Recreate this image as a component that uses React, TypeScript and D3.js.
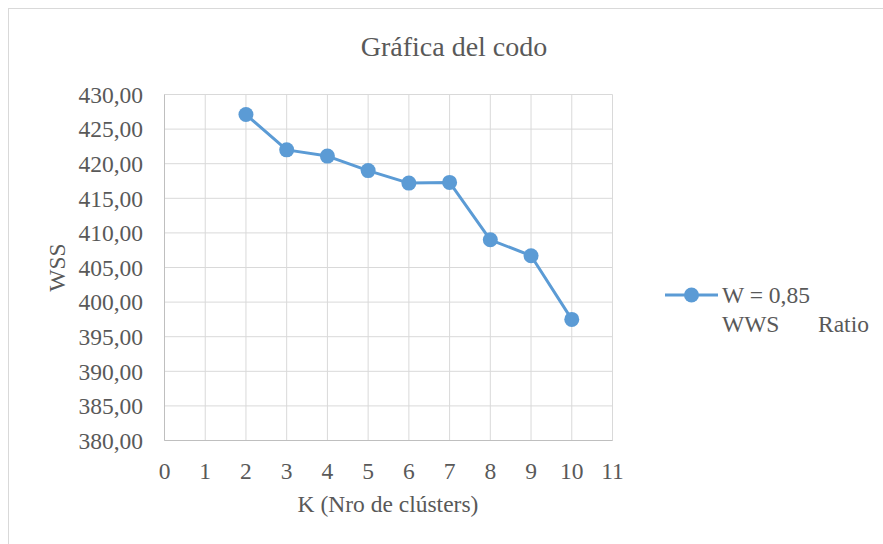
import React from "react";
import * as d3 from "d3";

const kValues = [2, 3, 4, 5, 6, 7, 8, 9, 10];
const wssValues = [427.1, 422.0, 421.1, 419.0, 417.2, 417.3, 409.0, 406.7, 397.5];
const xTicks = [0, 1, 2, 3, 4, 5, 6, 7, 8, 9, 10, 11];
const yTicks = [380, 385, 390, 395, 400, 405, 410, 415, 420, 425, 430];
const title = "Gráfica del codo";
const xTitle = "K (Nro de clústers)";
const yTitle = "WSS";
const legendLine1 = "W = 0,85";
const legendLine2a = "WWS";
const legendLine2b = "Ratio";

const W = 883;
const H = 544;
const font = "Liberation Serif, DejaVu Serif, serif";
const textColor = "#595959";
const lineColor = "#5B9BD5";
const fs = 23.5;

export default function App() {
  const x = d3.scaleLinear().domain([0, 11]).range([164.5, 612.5]);
  const y = d3.scaleLinear().domain([380, 430]).range([440.5, 94.5]);
  const line = d3
    .line<number>()
    .x((_, i) => x(kValues[i]))
    .y((d) => y(d));
  const fmt = (v: number) => v.toFixed(2).replace(".", ",");

  return (
    <svg
      width={W}
      height={H}
      style={{ position: "absolute", left: 0, top: 0, background: "#fff", fontFamily: font }}
    >
      <rect x={8.5} y={8.5} width={890} height={560} fill="#fff" stroke="#d9d9d9" strokeWidth={1} />
      <text x={454} y={56} textAnchor="middle" fontSize={28} fill={textColor}>
        {title}
      </text>
      {yTicks.map((t) => (
        <line key={"gy" + t} x1={x(0)} x2={x(11)} y1={y(t)} y2={y(t)} stroke="#d9d9d9" strokeWidth={1} />
      ))}
      {xTicks.map((t) => (
        <line key={"gx" + t} x1={x(t)} x2={x(t)} y1={y(430)} y2={y(380)} stroke="#d9d9d9" strokeWidth={1} />
      ))}
      <line x1={x(0)} x2={x(0)} y1={y(430)} y2={y(380)} stroke="#bfbfbf" strokeWidth={1} />
      <line x1={x(0)} x2={x(11)} y1={y(380)} y2={y(380)} stroke="#bfbfbf" strokeWidth={1} />
      {yTicks.map((t) => (
        <text key={"ty" + t} x={143} y={y(t)} dy="0.35em" textAnchor="end" fontSize={fs} fill={textColor}>
          {fmt(t)}
        </text>
      ))}
      {xTicks.map((t) => (
        <text key={"tx" + t} x={x(t)} y={479} textAnchor="middle" fontSize={fs} fill={textColor}>
          {t}
        </text>
      ))}
      <text x={388} y={512} textAnchor="middle" fontSize={fs} fill={textColor}>
        {xTitle}
      </text>
      <text
        transform={`translate(65,${y(405)}) rotate(-90)`}
        textAnchor="middle"
        fontSize={fs}
        fill={textColor}
      >
        {yTitle}
      </text>
      <path d={line(wssValues) || ""} fill="none" stroke={lineColor} strokeWidth={3} strokeLinejoin="round" />
      {wssValues.map((v, i) => (
        <circle key={"p" + i} cx={x(kValues[i])} cy={y(v)} r={7.5} fill={lineColor} />
      ))}
      <line x1={665} x2={718} y1={295} y2={295} stroke={lineColor} strokeWidth={3} />
      <circle cx={691.5} cy={295} r={7.5} fill={lineColor} />
      <text x={722} y={303} fontSize={fs} fill={textColor}>
        {legendLine1}
      </text>
      <text x={722} y={332} fontSize={fs} fill={textColor}>
        {legendLine2a}
      </text>
      <text x={818} y={332} fontSize={fs} fill={textColor}>
        {legendLine2b}
      </text>
    </svg>
  );
}
